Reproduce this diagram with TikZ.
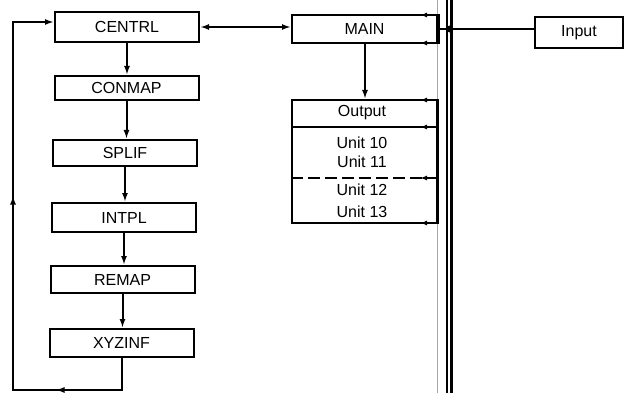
\documentclass[tikz,border=0pt]{standalone}
\usepackage{fontspec}
\setmainfont{Liberation Sans}
\usetikzlibrary{arrows.meta,decorations.markings}
\begin{document}
\begin{tikzpicture}[x=1pt,y=-1pt,
  box/.style={draw,line width=2pt,inner sep=0pt,minimum width=144pt,font=\fontsize{16}{16}\selectfont},
  txt/.style={inner sep=0pt,font=\fontsize{16}{16}\selectfont},
  conn/.style={line width=2pt},
  tip/.style={-{Latex[length=9pt,width=6pt]}},
  bustip/.style={-{Latex[length=7pt,width=5pt]},line width=1.8pt},
  bus/.style={line width=2.4pt}]
\useasboundingbox (0,0) rectangle (629,393);

% left column
\node[box,minimum height=30pt] (centrl) at (127,27) {CENTRL};
\node[box,minimum height=24pt] (conmap) at (126.5,88) {CONMAP};
\node[box,minimum height=26pt] (splif) at (125,153) {SPLIF};
\node[box,minimum height=29pt] (intpl) at (124,217.5) {INTPL};
\node[box,minimum height=27pt] (remap) at (122.5,279.5) {REMAP};
\node[box,minimum height=28pt] (xyzinf) at (121.5,343) {XYZINF};

\draw[conn,tip] (centrl.south) -- (centrl.south |- conmap.north);
\draw[conn,tip] (conmap.south) -- (conmap.south |- splif.north);
\draw[conn,tip] (splif.south) -- (splif.south |- intpl.north);
\draw[conn,tip] (intpl.south) -- (intpl.south |- remap.north);
\draw[conn,tip] (remap.south) -- (remap.south |- xyzinf.north);

% feedback loop
\coordinate (lb) at (13,390);
\coordinate (lt) at (13,22);
\draw[conn,tip,postaction={decorate},decoration={markings,
    mark=at position 98pt with {\arrow{Latex[length=9pt,width=6pt]}},
    mark=at position 335pt with {\arrow{Latex[length=9pt,width=6pt]}}}]
  (xyzinf.south) -- (xyzinf.south |- lb) -- (lb) -- (lt) -- (lt -| centrl.west);

% MAIN and output block
\node[box,minimum width=145pt,minimum height=28pt] (main) at (364.5,29) {MAIN};
\draw[conn,{Latex[length=9pt,width=6pt]}-{Latex[length=9pt,width=6pt]}]
  (centrl.east) -- (centrl.east -| main.west);

\node[draw,line width=2pt,minimum width=145pt,minimum height=123pt,inner sep=0pt] (outbox) at (364.5,161.5) {};
\coordinate (d1) at (0,127);
\coordinate (d2) at (0,178);
\draw[conn] (outbox.west |- d1) -- (outbox.east |- d1);
\draw[conn,dash pattern=on 12pt off 5pt] (outbox.west |- d2) -- (outbox.east |- d2);
\node[txt] (tout) at (362,113) {Output};
\node[txt] (u10) at (362,143) {Unit 10};
\node[txt] (u11) at (362,162) {Unit 11};
\node[txt] (u12) at (362,190) {Unit 12};
\node[txt] (u13) at (362,212) {Unit 13};
\draw[conn,tip] (main.south -| 365,0) -- (outbox.north -| 365,0);

% bus lines
\draw[gray!70,line width=1pt] (437,0) -- (437,393);
\draw[line width=3pt] (main.north east) -- (main.south east);
\draw[line width=2.4pt] (outbox.north east) -- (outbox.south east);
\draw[bus] (447,0) -- (447,393);
\draw[bus] (451.5,0) -- (451.5,393);

\foreach \yy in {15,43,100,127,178,223}
  \draw[bustip] (429,\yy) -- (420,\yy);

% input
\node[box,minimum width=88pt,minimum height=31pt] (input) at (579,32.5) {Input};
\draw[conn] (main.east) -- (main.east -| input.west);
\fill (449.5,29) circle (3.4pt);
\end{tikzpicture}
\end{document}
